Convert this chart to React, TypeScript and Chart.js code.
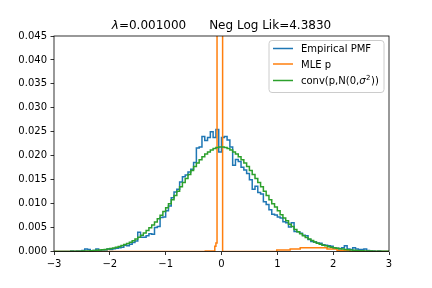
import React, { useEffect, useRef } from "react";
import { Chart, registerables } from "chart.js";

Chart.register(...registerables);

const X_MIN = -3;
const X_MAX = 3;
const BIN_WIDTH = 0.05;

const titleLambda = "λ";
const titleRest = "=0.001000      Neg Log Lik=4.3830";

const seriesNames = ["Empirical PMF", "MLE p", "conv(p,N(0,σ²))"];
const seriesColors = ["#1f77b4", "#ff7f0e", "#2ca02c"];

const yTickValues = [0, 0.005, 0.01, 0.015, 0.02, 0.025, 0.03, 0.035, 0.04, 0.045];
const xTickValues = [-3, -2, -1, 0, 1, 2, 3];

// Empirical PMF, one value per bin of width 0.05 from -3 to 3
const empiricalPmf = [
  0, 0, 0, 0, 0, 0, 0.0001, 0, 0.0001, 0.0001,
  0.0002, 0.0005, 0.0004, 0.0001, 0.0002, 0.0005, 0.0002, 0.0003, 0.0003, 0.0005,
  0.0004, 0.0006, 0.0007, 0.0008, 0.0009, 0.0013, 0.0012, 0.0015, 0.0019, 0.0022,
  0.0040, 0.0030, 0.0030, 0.0033, 0.0037, 0.0036, 0.0050, 0.0052, 0.0071, 0.0072,
  0.0085, 0.0095, 0.0112, 0.0124, 0.0130, 0.0145, 0.0156, 0.0160, 0.0166, 0.0172,
  0.0186, 0.0216, 0.0218, 0.0240, 0.0232, 0.0238, 0.0250, 0.0238, 0.0255, 0.0208,
  0.0238, 0.0240, 0.0233, 0.0218, 0.0180, 0.0192, 0.0188, 0.0176, 0.0170, 0.0163,
  0.0150, 0.0130, 0.0136, 0.0123, 0.0120, 0.0104, 0.0098, 0.0087, 0.0078, 0.0076,
  0.0072, 0.0070, 0.0062, 0.0060, 0.0051, 0.0060, 0.0042, 0.0041, 0.0038, 0.0034,
  0.0033, 0.0025, 0.0021, 0.0020, 0.0018, 0.0017, 0.0014, 0.0013, 0.0012, 0.0011,
  0.0007, 0.0007, 0.0006, 0.0008, 0.0012, 0.0005, 0.0004, 0.0008, 0.0005, 0.0004,
  0.0004, 0.0005, 0.0002, 0.0001, 0.0001, 0, 0.0001, 0, 0, 0,
];

// conv(p, N(0, sigma^2)), same bins
const convValues = [
  0.00001, 0.00001, 0.00001, 0.00001, 0.00002, 0.00002, 0.00003, 0.00004, 0.00005, 0.00006,
  0.00008, 0.0001, 0.00013, 0.00016, 0.00019, 0.00024, 0.00029, 0.00035, 0.00043, 0.00052,
  0.00062, 0.00074, 0.00088, 0.00104, 0.00123, 0.00144, 0.00168, 0.00195, 0.00226, 0.0026,
  0.00299, 0.00341, 0.00388, 0.00439, 0.00494, 0.00554, 0.00618, 0.00686, 0.00758, 0.00835,
  0.00915, 0.00998, 0.01083, 0.0117, 0.0126, 0.0135, 0.0144, 0.01526, 0.0161, 0.0169,
  0.01774, 0.01848, 0.01916, 0.0198, 0.02035, 0.0208, 0.0212, 0.0215, 0.0217, 0.0218,
  0.0218, 0.0217, 0.0215, 0.0212, 0.0208, 0.02035, 0.0198, 0.01916, 0.01848, 0.01774,
  0.0169, 0.0161, 0.01526, 0.0144, 0.0135, 0.0126, 0.0117, 0.01083, 0.00998, 0.0093,
  0.0085, 0.0077, 0.007, 0.0064, 0.0057, 0.0052, 0.0046, 0.0041, 0.0037, 0.0033,
  0.0029, 0.0026, 0.0023, 0.002, 0.0017, 0.0015, 0.0013, 0.0012, 0.001, 0.0009,
  0.0008, 0.0007, 0.0006, 0.0005, 0.00044, 0.00037, 0.00032, 0.00027, 0.00022, 0.00018,
  0.00015, 0.00013, 0.00011, 0.00009, 0.00007, 0.00006, 0.00005, 0.00004, 0.00003, 0.00003,
];

// MLE p: step edges and the value held from each edge to the next
const mleEdges = [-3, -0.29, -0.12, -0.1, -0.08, 0.02, 0.99, 1.23, 1.41, 1.89, 2.07, 2.3, 3];
const mleValues = [0, 0.0001, 0.0011, 0.0018, 0.93, 0, 0.0003, 0.0005, 0.0008, 0.0005, 0.0002, 0, 0];

function binSteps(values: number[]) {
  const pts = values.map((y, i) => ({ x: X_MIN + i * BIN_WIDTH, y }));
  pts.push({ x: X_MAX, y: values[values.length - 1] });
  return pts;
}

const FONT = "'DejaVu Sans', 'Liberation Sans', sans-serif";

const decorPlugin = {
  id: "decor",
  afterDatasetsDraw(chart: any) {
    const { ctx, chartArea: a } = chart;
    ctx.save();
    ctx.strokeStyle = "#000";
    ctx.lineWidth = 0.8;
    ctx.strokeRect(a.left, a.top, a.right - a.left, a.bottom - a.top);
    ctx.restore();
  },
  afterDraw(chart: any) {
    const { ctx, chartArea: a } = chart;
    ctx.save();
    // Title
    ctx.fillStyle = "#000";
    ctx.textBaseline = "alphabetic";
    ctx.textAlign = "left";
    ctx.font = `italic 12px ${FONT}`;
    const w1 = ctx.measureText(titleLambda).width;
    ctx.font = `12px ${FONT}`;
    const w2 = ctx.measureText(titleRest).width;
    const cx = (a.left + a.right) / 2;
    const tx = cx - (w1 + w2) / 2;
    const ty = 28.5;
    ctx.font = `italic 12px ${FONT}`;
    ctx.fillText(titleLambda, tx, ty);
    ctx.font = `12px ${FONT}`;
    ctx.fillText(titleRest, tx + w1, ty);

    // Legend
    const lw = 115;
    const lh = 52;
    const lx = a.right - 5 - lw;
    const ly = a.top + 4.5;
    const r = 3;
    ctx.beginPath();
    ctx.moveTo(lx + r, ly);
    ctx.lineTo(lx + lw - r, ly);
    ctx.quadraticCurveTo(lx + lw, ly, lx + lw, ly + r);
    ctx.lineTo(lx + lw, ly + lh - r);
    ctx.quadraticCurveTo(lx + lw, ly + lh, lx + lw - r, ly + lh);
    ctx.lineTo(lx + r, ly + lh);
    ctx.quadraticCurveTo(lx, ly + lh, lx, ly + lh - r);
    ctx.lineTo(lx, ly + r);
    ctx.quadraticCurveTo(lx, ly, lx + r, ly);
    ctx.closePath();
    ctx.fillStyle = "rgba(255,255,255,0.8)";
    ctx.fill();
    ctx.strokeStyle = "#cccccc";
    ctx.lineWidth = 1;
    ctx.stroke();

    const rows = [ly + 8, ly + 23.5, ly + 40];
    const hx0 = lx + 4;
    const hx1 = hx0 + 20;
    const textX = hx1 + 8;
    rows.forEach((ry, i) => {
      ctx.strokeStyle = seriesColors[i];
      ctx.lineWidth = 1.5;
      ctx.beginPath();
      ctx.moveTo(hx0, ry);
      ctx.lineTo(hx1, ry);
      ctx.stroke();
    });
    ctx.fillStyle = "#000";
    ctx.font = `10px ${FONT}`;
    ctx.fillText(seriesNames[0], textX, rows[0] + 3.6);
    ctx.fillText(seriesNames[1], textX, rows[1] + 3.6);
    // third label with italic sigma and superscript 2
    const base = rows[2] + 3.6;
    let x = textX;
    const p1 = "conv(p,N(0,";
    ctx.fillText(p1, x, base);
    x += ctx.measureText(p1).width;
    ctx.font = `italic 10px ${FONT}`;
    ctx.fillText("σ", x, base);
    x += ctx.measureText("σ").width;
    ctx.font = `7px ${FONT}`;
    ctx.fillText("2", x + 0.5, base - 4);
    x += ctx.measureText("2").width + 1;
    ctx.font = `10px ${FONT}`;
    ctx.fillText("))", x, base);
    ctx.restore();
  },
};

export default function App() {
  const canvasRef = useRef<HTMLCanvasElement | null>(null);

  useEffect(() => {
    const canvas = canvasRef.current;
    if (!canvas) return;
    const lineStyle = {
      borderWidth: 1.5,
      pointRadius: 0,
      fill: false,
      tension: 0,
      stepped: "before" as const,
    };
    const chart = new Chart(canvas, {
      type: "line",
      data: {
        datasets: [
          {
            label: seriesNames[0],
            data: binSteps(empiricalPmf),
            borderColor: seriesColors[0],
            backgroundColor: seriesColors[0],
            order: 2,
            ...lineStyle,
          },
          {
            label: seriesNames[1],
            data: mleEdges.map((x, i) => ({ x, y: mleValues[i] })),
            borderColor: seriesColors[1],
            backgroundColor: seriesColors[1],
            order: 1,
            ...lineStyle,
          },
          {
            label: seriesNames[2],
            data: binSteps(convValues),
            borderColor: seriesColors[2],
            backgroundColor: seriesColors[2],
            order: 0,
            ...lineStyle,
          },
        ],
      },
      options: {
        responsive: false,
        animation: false,
        devicePixelRatio: 1,
        events: [],
        layout: { padding: { top: 36, right: 43, left: 0, bottom: 0 } },
        plugins: {
          legend: { display: false },
          title: { display: false },
          tooltip: { enabled: false },
        },
        scales: {
          x: {
            type: "linear",
            min: X_MIN,
            max: X_MAX,
            border: { display: false },
            grid: {
              drawOnChartArea: false,
              drawTicks: true,
              tickLength: 3.5,
              tickColor: "#000",
              tickWidth: 0.8,
            },
            afterBuildTicks: (scale: any) => {
              scale.ticks = xTickValues.map((v) => ({ value: v }));
            },
            afterFit: (scale: any) => {
              scale.height = 36.5;
            },
            ticks: {
              color: "#000",
              font: { family: FONT, size: 10 },
              padding: 3,
              maxRotation: 0,
              callback: (v: any) => {
                const n = Number(v);
                return n < 0 ? "\u2212" + Math.abs(n) : String(n);
              },
            },
          },
          y: {
            type: "linear",
            min: 0,
            max: 0.045,
            border: { display: false },
            grid: {
              drawOnChartArea: false,
              drawTicks: true,
              tickLength: 3.5,
              tickColor: "#000",
              tickWidth: 0.8,
            },
            afterBuildTicks: (scale: any) => {
              scale.ticks = yTickValues.map((v) => ({ value: v }));
            },
            afterFit: (scale: any) => {
              scale.width = 54;
            },
            ticks: {
              color: "#000",
              font: { family: FONT, size: 10 },
              padding: 3.5,
              callback: (v: any) => Number(v).toFixed(3),
            },
          },
        },
      },
      plugins: [decorPlugin],
    });
    return () => chart.destroy();
  }, []);

  return (
    <div style={{ position: "absolute", left: 0, top: 0, width: 432, height: 288, background: "#fff" }}>
      <canvas ref={canvasRef} width={432} height={288} />
    </div>
  );
}
